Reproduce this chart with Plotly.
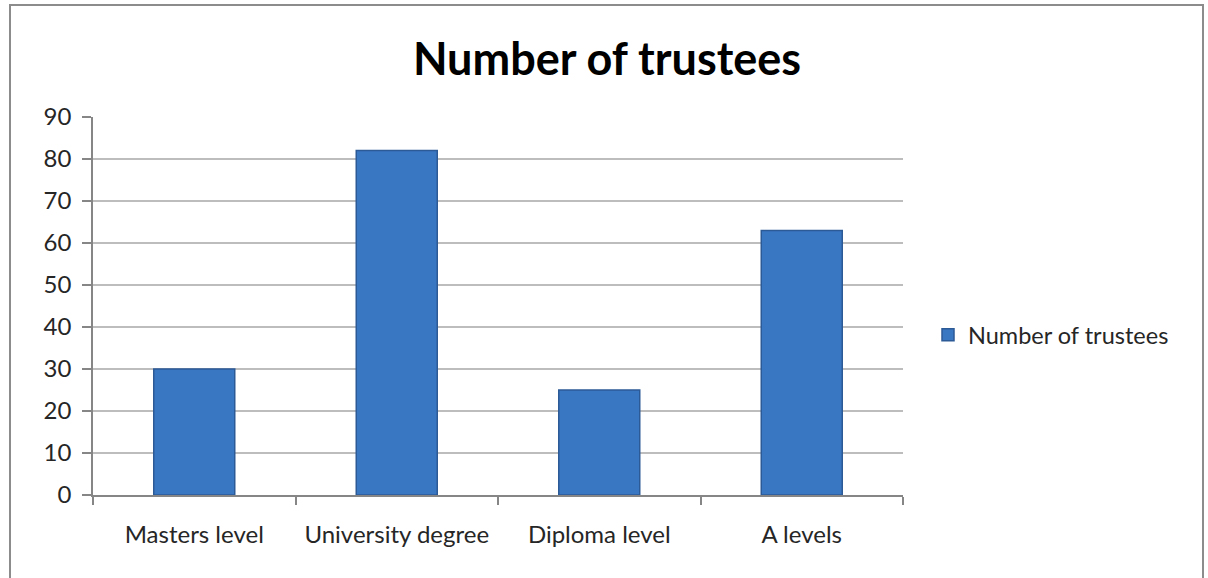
import plotly.graph_objects as go

# Chart data
categories = ["Masters level", "University degree", "Diploma level", "A levels"]
trustees = [30, 82, 25, 63]
y_ticks = [0, 10, 20, 30, 40, 50, 60, 70, 80, 90]

W, H = 1208, 578
L, R, T, B = 93, 903, 117, 495  # plot area in pixels
pw, ph = R - L, B - T

def px_x(x):
    return (x - L) / pw

def px_y(y):
    return (B - y) / ph

fig = go.Figure()
fig.add_trace(go.Bar(
    x=categories,
    y=trustees,
    name="Number of trustees",
    width=0.4,
    marker=dict(color="#3A77C3", line=dict(color="#2C5A96", width=1.5)),
))

font_family = "Lato, 'Open Sans', sans-serif"

fig.update_layout(
    width=W, height=H,
    margin=dict(l=L, r=W - R, t=T, b=H - B),
    paper_bgcolor="white",
    plot_bgcolor="white",
    font=dict(family=font_family, color="#262626", size=24),
    title=dict(
        text="<b>Number of trustees</b>",
        x=607 / W, xanchor="center",
        y=1 - 59 / H, yanchor="middle",
        font=dict(size=45, color="#000000", family=font_family),
    ),
    showlegend=True,
    legend=dict(
        x=px_x(928), xanchor="left",
        y=px_y(335), yanchor="middle",
        font=dict(size=23.5, color="#262626"),
        bgcolor="rgba(0,0,0,0)",
    ),
    xaxis=dict(
        type="category",
        showline=True, linecolor="#868686", linewidth=1.5,
        ticks="outside", tickson="boundaries", ticklen=8,
        tickcolor="#868686", tickwidth=1.5,
        ticklabelstandoff=17,
        tickfont=dict(size=24, color="#262626"),
        showgrid=False,
        fixedrange=True,
    ),
    yaxis=dict(
        range=[0, 90],
        tickvals=y_ticks,
        showline=True, linecolor="#868686", linewidth=1.5,
        ticks="outside", ticklen=9, tickcolor="#868686", tickwidth=1.5,
        ticklabelstandoff=6,
        showgrid=True, gridcolor="#BDBDBD", gridwidth=2,
        zeroline=False,
        tickfont=dict(size=24, color="#262626"),
        fixedrange=True,
    ),
    shapes=[
        dict(
            type="rect", xref="paper", yref="paper",
            x0=px_x(10), x1=px_x(1203), y0=px_y(600), y1=px_y(5),
            line=dict(color="#8C8C8C", width=2),
            fillcolor="rgba(0,0,0,0)", layer="below",
        )
    ],
)

fig.write_html("out.html")
